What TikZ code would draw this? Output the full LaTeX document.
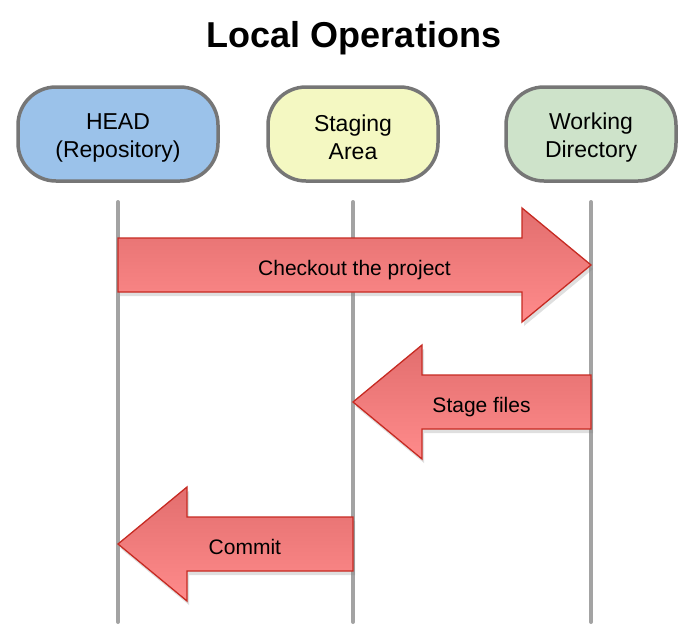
\documentclass[tikz,border=0pt]{standalone}
\usepackage{fontspec}
\setmainfont{Liberation Sans}
\usetikzlibrary{calc,shadows}

\definecolor{headblue}{HTML}{9BC2EA}
\definecolor{stageyellow}{HTML}{F4F8C2}
\definecolor{workgreen}{HTML}{CEE3CA}
\definecolor{boxgray}{HTML}{767676}
\definecolor{lanegray}{HTML}{A3A3A3}
\definecolor{arrowtop}{HTML}{E26E6E}
\definecolor{arrowbottom}{HTML}{FF8B8B}
\definecolor{arrowred}{HTML}{C62A22}

\newcommand{\bigarrow}[5]{%
    \path[bigarrow] let \p1=(#1 |- 0,#3), \p2=(#2 |- 0,#3),
        \p3=($(\p2)!69pt!(\p1)$) in
        (\x1,\y1+27pt) -- (\x3,\y1+27pt) -- (\x3,\y1+57pt) -- (\x2,\y2)
        -- (\x3,\y1-57pt) -- (\x3,\y1-27pt) -- (\x1,\y1-27pt) -- cycle;
    \node[arrowlabel] at ($(#1 |- 0,#3)!#5!(#2 |- 0,#3)$) {#4};
}

\begin{document}
\begin{tikzpicture}[x=1pt, y=-1pt,
    area/.style={draw=boxgray, line width=3.5pt, rounded corners=38pt,
        minimum height=94pt, inner sep=0pt},
    areatext/.style={align=center, yshift=-3.5pt,
        font=\fontsize{23}{28}\selectfont},
    lane/.style={draw=lanegray, line width=4pt, line cap=round},
    bigarrow/.style={draw=arrowred, line width=1.3pt,
        top color=arrowtop, bottom color=arrowbottom,
        drop shadow={opacity=0.25, shadow xshift=2pt, shadow yshift=-4pt}},
    arrowlabel/.style={anchor=base, yshift=-10pt,
        font=\fontsize{21}{25}\selectfont}]

    \useasboundingbox (0,0) rectangle (693,640);

    \node[anchor=base, font=\bfseries\fontsize{36}{40}\selectfont] (title)
        at (354,47) {Local Operations};

    \node[area, fill=headblue, minimum width=200pt] (head) at (118,134) {};
    \node[area, fill=stageyellow, minimum width=170pt] (stage) at (353,134) {};
    \node[area, fill=workgreen, minimum width=170pt] (work) at (591,134) {};

    \node[areatext] (headtext) at (head) {HEAD\\(Repository)};
    \node[areatext] (stagetext) at (stage) {Staging\\Area};
    \node[areatext] (worktext) at (work) {Working\\Directory};

    \draw[lane] (head |- 0,202) -- (head |- 0,622);
    \draw[lane] (stage |- 0,202) -- (stage |- 0,622);
    \draw[lane] (work |- 0,202) -- (work |- 0,622);

    \bigarrow{head}{work}{265}{Checkout the project}{0.5}
    \bigarrow{work}{stage}{402}{Stage files}{0.46}
    \bigarrow{stage}{head}{544}{Commit}{0.46}

\end{tikzpicture}
\end{document}
